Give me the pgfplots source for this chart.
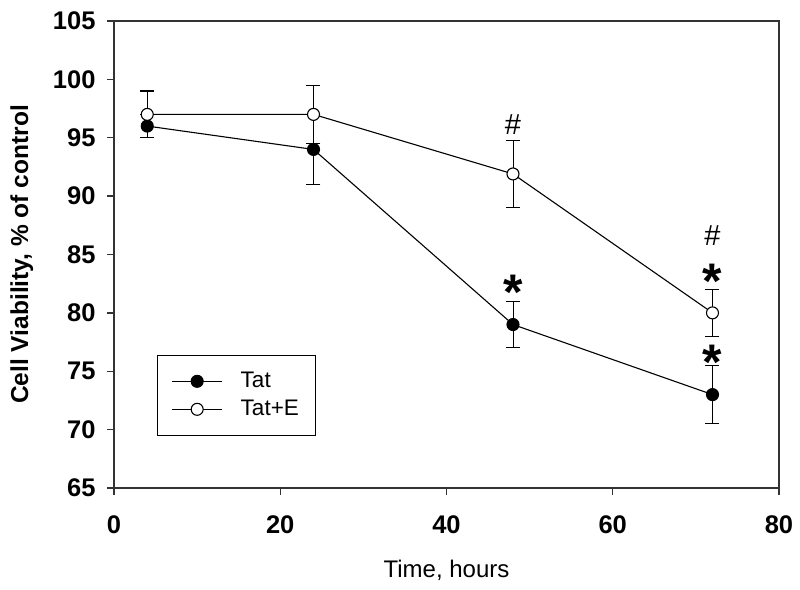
\documentclass[border=0pt]{standalone}
\usepackage{fontspec}
\setmainfont{Liberation Sans}
\usepackage{pgfplots}
\pgfplotsset{compat=1.18}
\begin{document}
\begin{tikzpicture}
\path[use as bounding box] (-114pt,-101pt) rectangle (686pt,488pt);
\begin{axis}[
 at={(0pt,0pt)}, anchor=south west,
 scale only axis, width=665pt, height=467pt,
 xmin=0,xmax=80,ymin=65,ymax=105,
 xtick={0,20,...,80}, ytick={65,70,...,105},
 tick align=outside, major tick length=7pt,
 xtick pos=bottom, ytick pos=left,
 axis line style={line width=1.3pt, black!80},
 tick style={line width=1.3pt, black!80},
 /pgf/number format/assume math mode=true,
 tick label style={font=\fontsize{25.5}{28}\selectfont\bfseries},
 xticklabel style={yshift=-17pt},
 yticklabel style={xshift=-8pt},
 xlabel={Time, hours}, ylabel={Cell Viability, \% of control},
 xlabel style={font=\fontsize{24}{28}\selectfont, at={(axis description cs:0.5,-0.176)}, anchor=center},
 ylabel style={font=\fontsize{24.5}{28}\selectfont\bfseries, at={(axis description cs:-0.1385,0.5)}, anchor=center},
 legend style={at={(rel axis cs:0.065,0.285)}, anchor=north west, draw=black, line width=0.8pt,
   font=\fontsize{22.5}{26}\selectfont, inner xsep=14pt, inner ysep=15pt, row sep=6pt, column sep=18pt,
   nodes={inner sep=0pt, text height=17pt, text depth=5pt}},
 legend cell align=left,
 legend image code/.code={\draw[mark repeat=2,mark phase=2,#1] plot coordinates {(0pt,0pt)(25pt,0pt)(50pt,0pt)};},
 every axis plot/.append style={line width=1.1pt, black},
 error bars/y dir=both, error bars/y explicit,
 error bars/error mark options={rotate=90, line width=1.1pt, mark size=7pt, black},
]
\addplot[black, mark=*, mark size=6pt, mark options={fill=black, draw=black, line width=1.1pt}]
 coordinates {(4,96) +- (0,1) (24,94) +- (0,3) (48,79) +- (0,2) (72,73) +- (0,2.5)};
\addlegendentry{Tat}
\addplot[black, mark=*, mark size=6pt, mark options={fill=white, draw=black, line width=1.1pt}]
 coordinates {(4,97) +- (0,2) (24,97) +- (0,2.5) (48,91.9) +- (0,2.9) (72,80) +- (0,2)};
\addlegendentry{Tat+E\hspace*{3pt}}
\node[font=\fontsize{29}{30}\selectfont] at (axis cs:48,96.1) {\#};
\node[font=\fontsize{29}{30}\selectfont] at (axis cs:72,86.6) {\#};
\node[font=\fontsize{50}{50}\selectfont\bfseries, anchor=base, yshift=-25pt] at (axis cs:48,82.4) {*};
\node[font=\fontsize{50}{50}\selectfont\bfseries, anchor=base, yshift=-25pt] at (axis cs:72,83.4) {*};
\node[font=\fontsize{50}{50}\selectfont\bfseries, anchor=base, yshift=-25pt] at (axis cs:72,76.4) {*};
\end{axis}
\end{tikzpicture}
\end{document}
